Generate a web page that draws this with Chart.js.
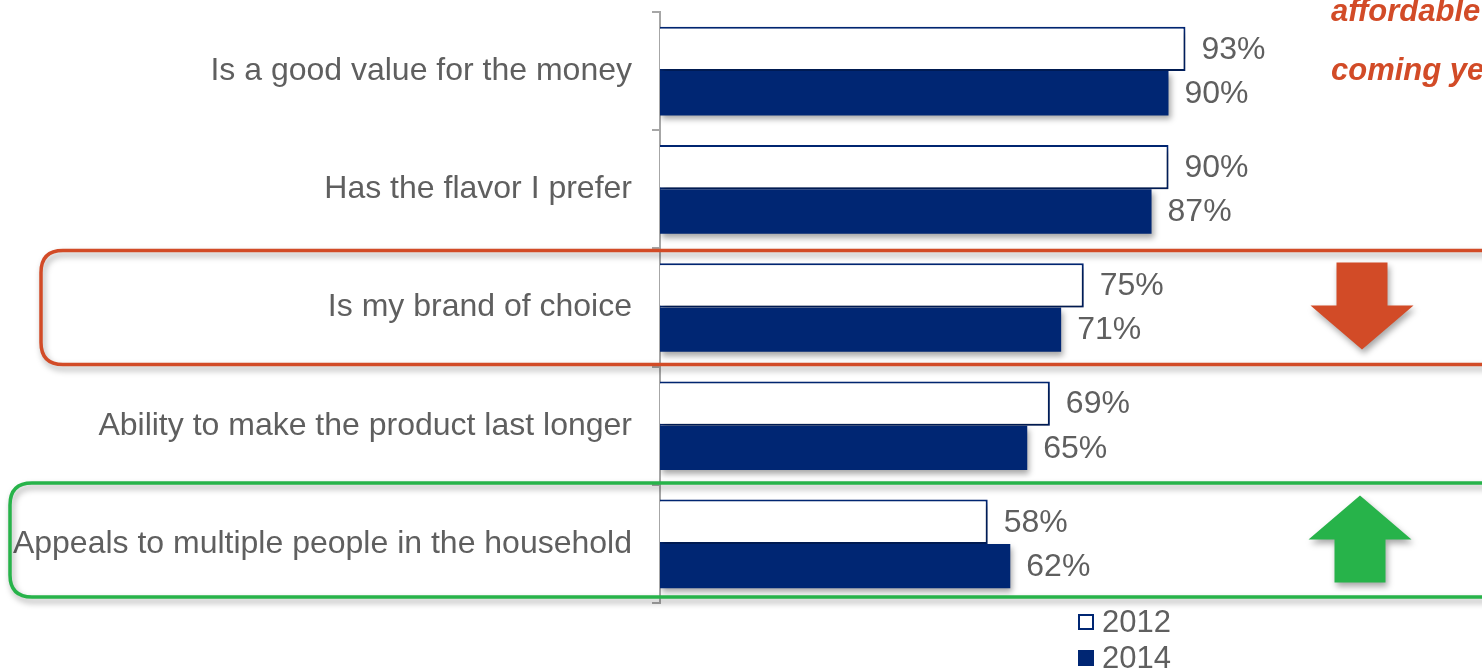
<!DOCTYPE html>
<html>
<head>
<meta charset="utf-8">
<script src="https://cdn.jsdelivr.net/npm/chart.js@4"></script>
<style>
  html, body { margin: 0; padding: 0; background: #fff; }
  #wrap { width: 1482px; height: 670px; overflow: hidden; }
</style>
</head>
<body>
<div id="wrap"><canvas id="chart" width="1482" height="670"></canvas></div>
<script>
const categories = [
  'Is a good value for the money',
  'Has the flavor I prefer',
  'Is my brand of choice',
  'Ability to make the product last longer',
  'Appeals to multiple people in the household'
];
const years = ['2012', '2014'];
const values2012 = [93, 90, 75, 69, 58];
const values2014 = [90, 87, 71, 65, 62];
const calloutLines = ['affordable', 'coming year'];

const NAVY = '#002673';
const RED = '#D24B27';
const GREEN = '#27B34A';
const GREY_TEXT = '#5f5f5f';
const FONT = '"Liberation Sans", Arial, sans-serif';

function roundRectPath(ctx, x, y, w, h, r) {
  ctx.beginPath();
  ctx.moveTo(x + r, y);
  ctx.lineTo(x + w - r, y);
  ctx.quadraticCurveTo(x + w, y, x + w, y + r);
  ctx.lineTo(x + w, y + h - r);
  ctx.quadraticCurveTo(x + w, y + h, x + w - r, y + h);
  ctx.lineTo(x + r, y + h);
  ctx.quadraticCurveTo(x, y + h, x, y + h - r);
  ctx.lineTo(x, y + r);
  ctx.quadraticCurveTo(x, y, x + r, y);
  ctx.closePath();
}

function withShadow(ctx) {
  ctx.shadowColor = 'rgba(0,0,0,0.35)';
  ctx.shadowBlur = 6;
  ctx.shadowOffsetX = 2;
  ctx.shadowOffsetY = 4;
}

// arrow pointing down (dir = 1) or up (dir = -1), centred on cx/cy
function drawArrow(ctx, cx, cy, dir, color) {
  const shaftW = 51, headW = 103, total = 87, headH = 44;
  const top = cy - dir * total / 2;
  const neck = cy + dir * (total / 2 - headH);
  const tip = cy + dir * total / 2;
  ctx.save();
  withShadow(ctx);
  ctx.fillStyle = color;
  ctx.beginPath();
  ctx.moveTo(cx - shaftW / 2, top);
  ctx.lineTo(cx + shaftW / 2, top);
  ctx.lineTo(cx + shaftW / 2, neck);
  ctx.lineTo(cx + headW / 2, neck);
  ctx.lineTo(cx, tip);
  ctx.lineTo(cx - headW / 2, neck);
  ctx.lineTo(cx - shaftW / 2, neck);
  ctx.closePath();
  ctx.fill();
  ctx.restore();
}

const extras = {
  id: 'extras',
  beforeDatasetsDraw(chart) {
    chart.ctx.save();
    withShadow(chart.ctx);
  },
  afterDatasetsDraw(chart) {
    const ctx = chart.ctx;
    ctx.restore();
    const yScale = chart.scales.y;

    // value labels to the right of each bar
    ctx.save();
    ctx.font = '32px ' + FONT;
    ctx.fillStyle = GREY_TEXT;
    ctx.textAlign = 'left';
    ctx.textBaseline = 'middle';
    chart.data.datasets.forEach((ds, i) => {
      chart.getDatasetMeta(i).data.forEach((bar, j) => {
        ctx.fillText(ds.data[j] + '%', bar.x + 16, bar.y + 1);
      });
    });
    ctx.restore();

    // highlight boxes around the rows that moved
    const yDown = yScale.getPixelForValue(2);
    const yUp = yScale.getPixelForValue(4);
    ctx.save();
    withShadow(ctx);
    ctx.lineWidth = 3.5;
    ctx.strokeStyle = RED;
    roundRectPath(ctx, 41, yDown - 57, 1500, 114, 22);
    ctx.stroke();
    ctx.strokeStyle = GREEN;
    roundRectPath(ctx, 10, yUp - 61, 1530, 114, 22);
    ctx.stroke();
    ctx.restore();

    drawArrow(ctx, 1362, yDown - 1.5, 1, RED);
    drawArrow(ctx, 1360, yUp - 5, -1, GREEN);

    // callout text at top right
    ctx.save();
    ctx.font = 'italic bold 31px ' + FONT;
    ctx.fillStyle = RED;
    ctx.textAlign = 'left';
    ctx.textBaseline = 'alphabetic';
    ctx.fillText(calloutLines[0], 1331, 21);
    ctx.fillText(calloutLines[1], 1331, 80);
    ctx.restore();

    // legend, stacked vertically under the bars
    ctx.save();
    ctx.font = '31px ' + FONT;
    ctx.textBaseline = 'middle';
    ctx.textAlign = 'left';
    chart.data.datasets.forEach((ds, i) => {
      const y = 622 + i * 36;
      ctx.fillStyle = ds.backgroundColor;
      ctx.fillRect(1079, y - 7, 14, 14);
      ctx.lineWidth = 2;
      ctx.strokeStyle = ds.borderColor;
      ctx.strokeRect(1079, y - 7, 14, 14);
      ctx.fillStyle = GREY_TEXT;
      ctx.fillText(ds.label, 1102, y + 1);
    });
    ctx.restore();
  }
};

new Chart(document.getElementById('chart'), {
  type: 'bar',
  data: {
    labels: categories,
    datasets: [
      {
        label: years[0],
        data: values2012,
        backgroundColor: '#ffffff',
        borderColor: NAVY,
        borderWidth: 2,
        categoryPercentage: 0.75,
        barPercentage: 1.0
      },
      {
        label: years[1],
        data: values2014,
        backgroundColor: NAVY,
        borderColor: NAVY,
        borderWidth: 0,
        categoryPercentage: 0.75,
        barPercentage: 1.0
      }
    ]
  },
  options: {
    indexAxis: 'y',
    responsive: false,
    animation: false,
    layout: { padding: { top: 12, bottom: 67, left: 0, right: 257 } },
    plugins: {
      legend: { display: false },
      tooltip: { enabled: false }
    },
    scales: {
      x: { display: false, min: 0, max: 100 },
      y: {
        afterFit(scale) {
          scale.width = 660;
          // labels sit mid-band, so no extra room is needed above/below
          scale.paddingTop = 0;
          scale.paddingBottom = 0;
        },
        border: { display: true, color: '#a6a6a6', width: 2 },
        grid: {
          drawOnChartArea: false,
          drawTicks: true,
          tickLength: 8,
          color: '#a6a6a6',
          lineWidth: 2
        },
        ticks: {
          color: GREY_TEXT,
          padding: 20,
          font: { family: FONT, size: 32 }
        }
      }
    }
  },
  plugins: [extras]
});
</script>
</body>
</html>
